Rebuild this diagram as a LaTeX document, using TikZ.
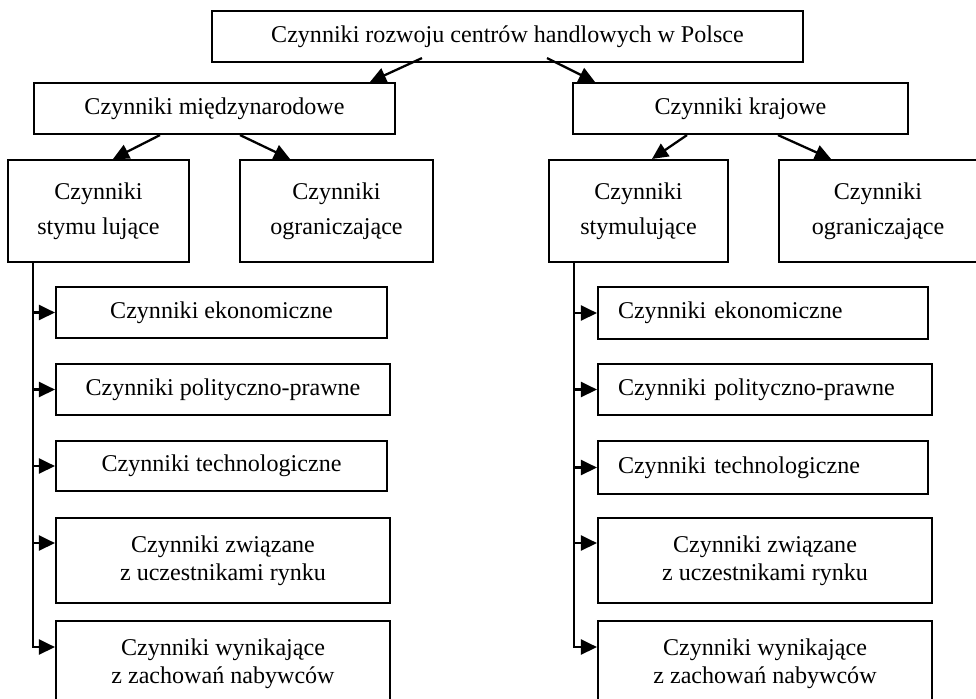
\documentclass[tikz,border=0pt]{standalone}
\usepackage{fontspec}
\setmainfont{Liberation Serif}
\usepackage{tikz}
\usetikzlibrary{arrows.meta}
\usetikzlibrary{calc}

\tikzset{
    box/.style={draw, line width=1.2pt, inner sep=0pt, align=center,
        font=\fontsize{13.7}{15.9}\selectfont},
    stimbox/.style={box, font=\fontsize{13.7}{19.8}\selectfont},
    bw/.style={minimum width=#1*0.02cm},
    bh/.style={minimum height=#1*0.02cm},
    leftbox/.style={align=left, inner xsep=0.4cm, text width=#1*0.02cm-0.8cm},
    arr/.style={line width=1.3pt, -{Triangle[length=0.32cm, width=0.3cm]}}
}

\begin{document}
\begin{tikzpicture}[x=0.02cm, y=-0.02cm]
            
                    \useasboundingbox (0,0) rectangle (976,698);
                
                    \node[box, bw=591, bh=51] (T) at (507.5,36.5) {Czynniki rozwoju centrów handlowych w Polsce};
                    \node[box, bw=361, bh=51] (M) at (214.5,108.5) {Czynniki międzynarodowe};
                    \node[box, bw=335, bh=51] (K) at (740.5,108.5) {Czynniki krajowe};
                
                    \node[stimbox, bw=181, bh=102] (MS) at (98.5,211) {Czynniki\\stymu lujące};
                    \node[stimbox, bw=193, bh=102] (MO) at (336.5,211) {Czynniki\\ograniczające};
                    \node[stimbox, bw=179, bh=102] (KS) at (638.5,211) {Czynniki\\stymulujące};
                    \node[stimbox, bw=198, bh=102] (KO) at (878,211) {Czynniki\\ograniczające};
                
                    \node[box, bw=331, bh=51] (M1) at (221.5,312.5) {Czynniki ekonomiczne};
                    \node[box, bw=334, bh=51] (M2) at (223,389.5) {Czynniki polityczno-prawne};
                    \node[box, bw=331, bh=50] (M3) at (221.5,466) {Czynniki technologiczne};
                    \node[box, bw=334, bh=85] (M4) at (223,560.5) {Czynniki związane\\z uczestnikami rynku};
                    \node[box, bw=334, bh=85] (M5) at (223,663.5) {Czynniki wynikające\\z zachowań nabywców};
                
                    \node[box, leftbox=330, bh=52] (K1) at (763,313) {Czynniki ekonomiczne};
                    \node[box, leftbox=334, bh=51] (K2) at (765,389.5) {Czynniki polityczno-prawne};
                    \node[box, leftbox=330, bh=53] (K3) at (763,467.5) {Czynniki technologiczne};
                    \node[box, bw=334, bh=85] (K4) at (765,560.5) {Czynniki związane\\z uczestnikami rynku};
                    \node[box, bw=334, bh=85] (K5) at (765,663.5) {Czynniki wynikające\\z zachowań nabywców};
                
                    \draw[arr] ($(T.south)+(-85.5,-5)$) -- ($(M.north)+(155.5,0)$);
                    \draw[arr] ($(T.south)+(39.5,-5)$) -- ($(K.north)+(-145.5,0)$);
                    \draw[arr] ($(M.south)+(-54.5,0)$) -- ($(MS.north)+(14.5,0)$);
                    \draw[arr] ($(M.south)+(25.5,0)$) -- ($(MO.north)+(-46.5,0)$);
                    \draw[arr] ($(K.south)+(-53.5,0)$) -- ($(KS.north)+(13.5,0)$);
                    \draw[arr] ($(K.south)+(37.5,0)$) -- ($(KO.north)+(-47,0)$);
                
                    \coordinate (ML) at ($(MS.south)+(-65.5,0)$);
                    \coordinate (KL) at ($(KS.south)+(-64.5,0)$);
                    \draw[arr] (ML) |- ($(M5.west)+(0,-16.5)$);
                    \draw[arr] (KL) |- ($(K5.west)+(0,-16.5)$);
                    \draw[arr] (M1.west -| ML) -- (M1.west);
                    \draw[arr] (M2.west -| ML) -- (M2.west);
                    \draw[arr] (M3.west -| ML) -- (M3.west);
                    \draw[arr] ($(M4.west -| ML)+(0,-17.5)$) -- ($(M4.west)+(0,-17.5)$);
                    \draw[arr] (K1.west -| KL) -- (K1.west);
                    \draw[arr] (K2.west -| KL) -- (K2.west);
                    \draw[arr] (K3.west -| KL) -- (K3.west);
                    \draw[arr] ($(K4.west -| KL)+(0,-17.5)$) -- ($(K4.west)+(0,-17.5)$);
            
                \end{tikzpicture}
\end{document}
